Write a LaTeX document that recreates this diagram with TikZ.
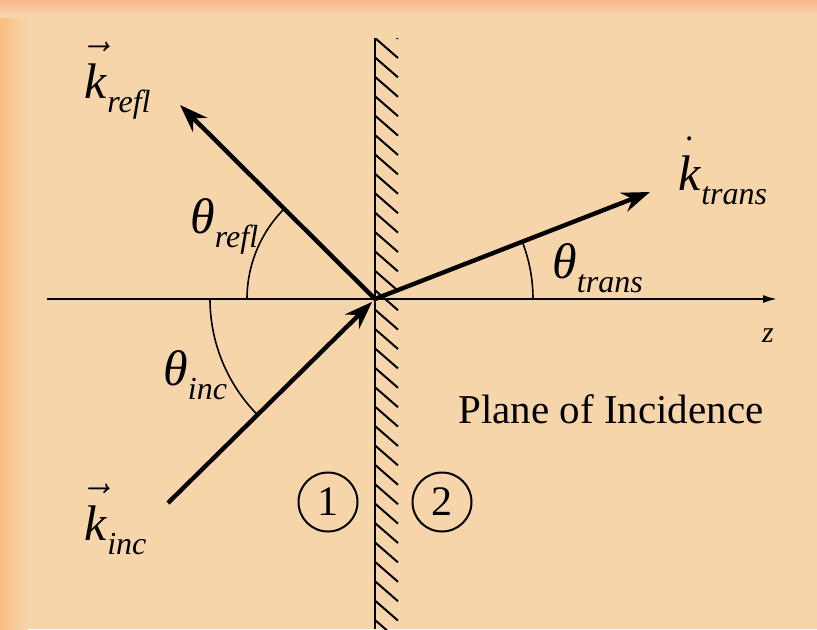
\documentclass[tikz,border=0pt]{standalone}
\usepackage{fontspec}
\setmainfont{Liberation Serif}
\usetikzlibrary{arrows.meta, positioning, calc}

\definecolor{paper}{RGB}{246,213,171}
\definecolor{edgeleft}{RGB}{249,190,128}
\definecolor{edgetop}{RGB}{247,184,140}

\newcommand{\bigit}[1]{{\fontsize{25}{30}\selectfont\textit{#1}}}
\newcommand{\subit}[1]{\raisebox{-7pt}{\fontsize{16}{19}\selectfont\textit{#1}}}
\newcommand{\tallk}{\hbox{\rule{0pt}{21pt}\textit{k}}}

\begin{document}
\begin{tikzpicture}[
  x=0.5pt, y=0.5pt,
  ray/.style={line width=2.2pt, -{Stealth[length=14pt, width=10pt]}},
  anglearc/.style={line width=0.8pt},
  lab/.style={inner sep=0pt, anchor=base west},
  medium/.style={circle, draw, line width=1pt, minimum size=29.5pt, inner sep=0pt, font=\fontsize{21}{24}\selectfont}
]
  % background
  \fill[paper] (0,0) rectangle (817,629);
  \shade[left color=edgeleft, right color=paper] (0,0) rectangle (28,629);
  \shade[top color=edgetop, bottom color=paper] (0,629) rectangle (817,612);
  \useasboundingbox (0,0) rectangle (817,629);

  \coordinate (O) at (375,330);
  \coordinate (zstart) at (47,330);
  \coordinate (zend) at (777,330);
  \coordinate (walltop) at (375,591);
  \coordinate (wallbot) at (375,0);
  \coordinate (inctail) at (168,126);
  \coordinate (refltip) at (180,524);
  \coordinate (transtip) at (650,437);

  % axis and wall
  \draw[line width=1pt, -{Latex[length=7pt, width=4pt]}] (zstart) -- (zend);
  \draw[line width=1.4pt] (walltop) -- (wallbot);
  \begin{scope}
    \clip (375,0) rectangle (400,591);
    \foreach \n in {-1,...,31}
      \draw[line width=1pt] (375,591-19.4*\n) -- ++(23,-20);
  \end{scope}

  % wave vectors
  \draw[ray, shorten >=2pt] (inctail) -- (O);
  \draw[ray] (O) -- (refltip);
  \draw[ray] (O) -- (transtip);

  % angles
  \draw[anglearc] (O) ++(180:128) arc[start angle=180, end angle=135, radius=128];
  \draw[anglearc] (O) ++(180:165) arc[start angle=180, end angle=225, radius=165];
  \draw[anglearc] (O) ++(0:158) arc[start angle=0, end angle=21.3, radius=158];

  % labels
  \node[lab] (krefl) at (84,531) {\fontsize{25}{30}\selectfont$\vec{\tallk}$\subit{refl}};
  \node[lab] (kinc) at (84,89) {\fontsize{25}{30}\selectfont$\vec{\tallk}$\subit{inc}};
  \node[lab] (ktrans) at (678,439) {\fontsize{25}{30}\selectfont$\dot{\tallk}$\subit{trans}};
  \node[lab] (threfl) at (190,396) {\bigit{θ}\subit{refl}};
  \node[lab] (thinc) at (163,244) {\bigit{θ}\subit{inc}};
  \node[lab] (thtrans) at (552,351) {\bigit{θ}\subit{trans}};
  \node[font=\fontsize{15}{18}\selectfont\itshape] (zlab) at (768,293) {z};
  \node[lab, font=\fontsize{20.5}{24}\selectfont] (plane) at (458,206) {Plane of Incidence};

  % media
  \node[medium] (one) at (328,127) {1};
  \node[medium] (two) at (442,127) {2};
\end{tikzpicture}
\end{document}
